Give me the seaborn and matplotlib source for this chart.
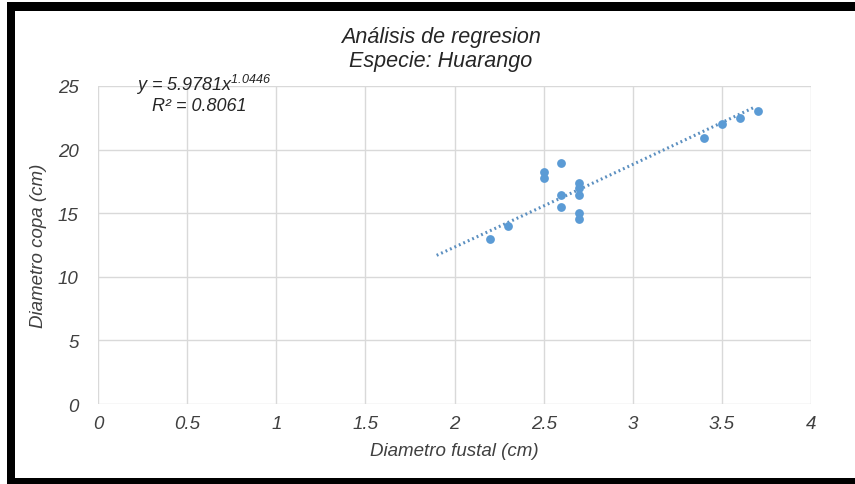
import numpy as np
import pandas as pd
import matplotlib
matplotlib.use("Agg")
import matplotlib.pyplot as plt
import seaborn as sns
from matplotlib.patches import Rectangle

# ---- data ----
diametro_fustal = [2.2, 2.3, 2.5, 2.5, 2.6, 2.6, 2.6, 2.7, 2.7, 2.7, 2.7, 2.7, 3.4, 3.5, 3.6, 3.7]
diametro_copa = [13.0, 14.0, 18.25, 17.8, 18.95, 16.45, 15.45, 17.4, 17.0, 16.45, 15.05, 14.55, 20.9, 22.05, 22.45, 23.0]
coef_a = 5.9781
coef_b = 1.0446
r2 = 0.8061
trend_range = [1.9, 3.68]
x_ticks = [0, 0.5, 1, 1.5, 2, 2.5, 3, 3.5, 4]
y_ticks = [0, 5, 10, 15, 20, 25]

sns.set_theme(style="white")
plt.rcParams["font.family"] = ["Liberation Sans", "DejaVu Sans"]
plt.rcParams["mathtext.fontset"] = "custom"
plt.rcParams["mathtext.rm"] = "Liberation Sans:italic"
plt.rcParams["mathtext.it"] = "Liberation Sans:italic"

W, H = 855, 485
fig = plt.figure(figsize=(W / 100, H / 100), dpi=100)
fig.patch.set_facecolor("white")

# axes box in pixels
left, right, top, bottom = 98, 811, 87, 405
ax = fig.add_axes([left / W, 1 - bottom / H, (right - left) / W, (bottom - top) / H])

blue = "#5b9bd5"
df = pd.DataFrame({"x": diametro_fustal, "y": diametro_copa})
sns.scatterplot(data=df, x="x", y="y", ax=ax, color=blue, s=40, edgecolor=blue,
                linewidth=0, zorder=3)

xt = np.linspace(trend_range[0], trend_range[1], 100)
tdf = pd.DataFrame({"x": xt, "y": coef_a * xt ** coef_b})
sns.lineplot(data=tdf, x="x", y="y", ax=ax, color="#5b8fc0", linewidth=2.2,
             linestyle=(0, (0.6, 1.0)), zorder=2)

ax.set_xlim(0, 4)
ax.set_ylim(0, 25)
ax.set_xticks(x_ticks)
ax.set_yticks(y_ticks)
ax.set_xticklabels([f"{t:g}" for t in x_ticks])
ax.set_yticklabels([f"{t:g}" for t in y_ticks])
ax.grid(True, color="#d9d9d9", linewidth=1.0)
ax.set_axisbelow(True)
for s in ax.spines.values():
    s.set_visible(False)
ax.tick_params(axis="both", length=0, labelsize=13.5, colors="#404040")
ax.tick_params(axis="x", pad=8)
ax.tick_params(axis="y", pad=14)
for lab in ax.get_xticklabels() + ax.get_yticklabels():
    lab.set_fontstyle("italic")

ax.set_xlabel("Diametro fustal (cm)", fontsize=13.5, fontstyle="italic", color="#404040", labelpad=7)
ax.set_ylabel("Diametro copa (cm)", fontsize=13.5, fontstyle="italic", color="#404040", labelpad=8)

fig.text(441 / W, 1 - 37 / H, "Análisis de regresion", ha="center", va="center",
         fontsize=15.5, fontstyle="italic", color="#262626")
fig.text(441 / W, 1 - 61 / H, "Especie: Huarango", ha="center", va="center",
         fontsize=15.5, fontstyle="italic", color="#262626")

ax.text(0.59, 25.15, f"y = {coef_a}x$^{{{coef_b}}}$", ha="center", va="center",
        fontsize=13, fontstyle="italic", color="#262626")
ax.text(0.57, 23.45, f"R² = {r2}", ha="center", va="center",
        fontsize=13, fontstyle="italic", color="#262626")

# black frame (left, top, bottom)
fig.patches.append(Rectangle((7 / W, 0), 8 / W, 1 - 3 / H, transform=fig.transFigure,
                             facecolor="black", edgecolor="none"))
fig.patches.append(Rectangle((7 / W, 1 - 12 / H), 1 - 7 / W, 9 / H, transform=fig.transFigure,
                             facecolor="black", edgecolor="none"))
fig.patches.append(Rectangle((7 / W, 0), 1 - 7 / W, 6 / H, transform=fig.transFigure,
                             facecolor="black", edgecolor="none"))

fig.savefig("out.png", dpi=100)
